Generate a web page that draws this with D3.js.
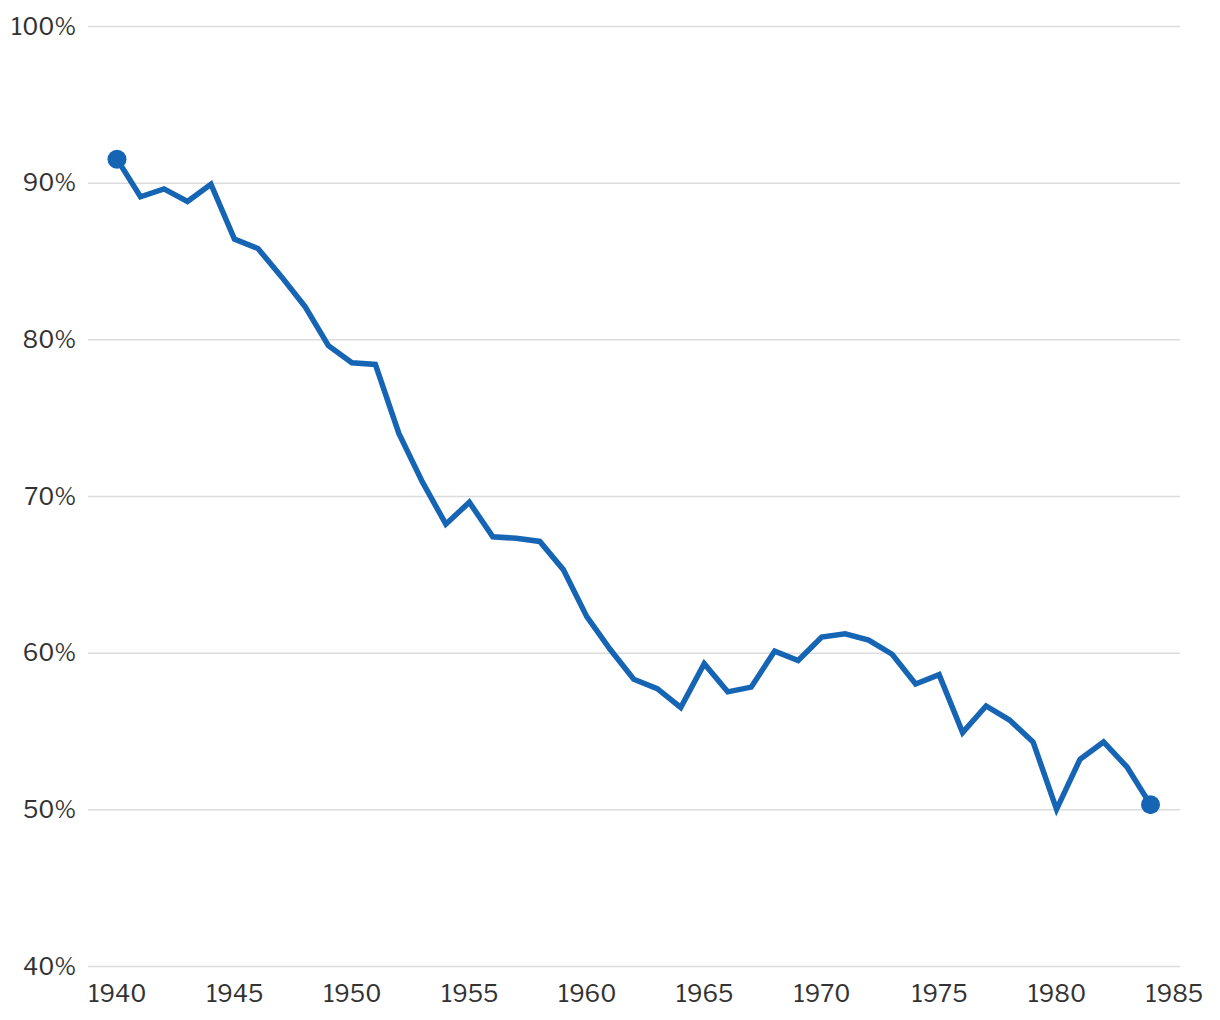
<!DOCTYPE html>
<html>
<head>
<meta charset="utf-8" />
<title>Share over time</title>
<script src="https://d3js.org/d3.v7.min.js"></script>
<style>
html, body {
  margin: 0;
  background: #fff;
}
text {
  font-family: "Libre Franklin", "Roboto", "Liberation Sans", sans-serif;
  fill: #333;
}
</style>
</head>
<body>
<div id="chart"></div>
<script>

var years = d3.range(1940, 1985);
var values = [91.5, 89.1, 89.6, 88.8, 89.9, 86.4, 85.8, 84.0, 82.1, 79.6,
              78.5, 78.4, 74.0, 70.9, 68.2, 69.6, 67.4, 67.3, 67.1, 65.3,
              62.3, 60.2, 58.3, 57.7, 56.5, 59.3, 57.5, 57.8, 60.1, 59.5,
              61.0, 61.2, 60.8, 59.9, 58.0, 58.6, 54.9, 56.6, 55.7, 54.3,
              50.0, 53.2, 54.3, 52.7, 50.3];
var yTicks = [40, 50, 60, 70, 80, 90, 100];
var xTicks = [1940, 1945, 1950, 1955, 1960, 1965, 1970, 1975, 1980, 1985];

var data = years.map(function (y, i) { return { year: y, value: values[i] }; });

var width = 1220, height = 1020;

var x = d3.scaleLinear().domain([1940, 1985]).range([117, 1174]);
var y = d3.scaleLinear().domain([40, 100]).range([966, 26]);

var svg = d3.select("#chart").append("svg")
  .attr("width", width)
  .attr("height", height);

// gridlines + y labels
var yAxis = d3.axisLeft(y)
  .tickValues(yTicks)
  .tickSize(-(1180 - 88))
  .tickPadding(12)
  .tickFormat(function (d) { return d + "%"; });

var gy = svg.append("g")
  .attr("transform", "translate(88,0)")
  .call(yAxis);
gy.select(".domain").remove();
gy.selectAll(".tick line").attr("stroke", "#dcdcdc").attr("stroke-width", 1.5);
gy.selectAll(".tick text")
  .attr("font-size", 23.5)
  .attr("fill", "#333")
  .attr("dy", "0.34em");

// x labels
var xAxis = d3.axisBottom(x)
  .tickValues(xTicks)
  .tickSize(0)
  .tickPadding(19)
  .tickFormat(d3.format("d"));

var gx = svg.append("g")
  .attr("transform", "translate(0,966)")
  .call(xAxis);
gx.select(".domain").remove();
gx.selectAll(".tick text")
  .attr("font-size", 23.5)
  .attr("fill", "#333");

// line
var line = d3.line()
  .x(function (d) { return x(d.year); })
  .y(function (d) { return y(d.value); });

svg.append("path")
  .datum(data)
  .attr("fill", "none")
  .attr("stroke", "#1565b4")
  .attr("stroke-width", 5.5)
  .attr("stroke-linejoin", "miter")
  .attr("d", line);

// end dots
svg.selectAll("circle.end")
  .data([data[0], data[data.length - 1]])
  .enter().append("circle")
  .attr("class", "end")
  .attr("cx", function (d) { return x(d.year); })
  .attr("cy", function (d) { return y(d.value); })
  .attr("r", 9.5)
  .attr("fill", "#1565b4");

</script>
</body>
</html>
